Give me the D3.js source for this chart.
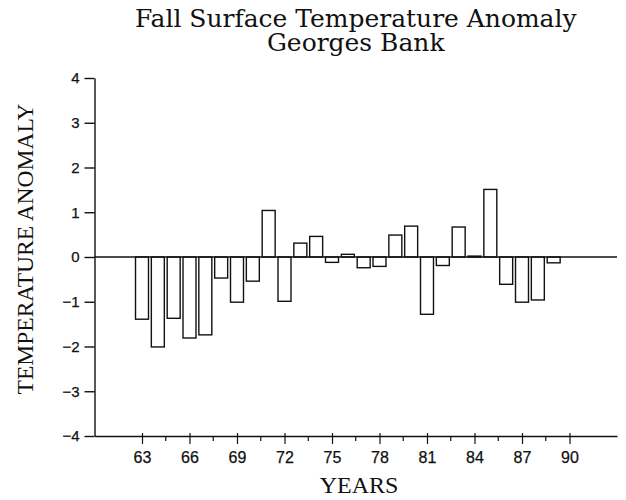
<!DOCTYPE html>
<html>
<head>
<meta charset="utf-8">
<script src="https://cdn.jsdelivr.net/npm/d3@7"></script>
<style>
  html, body { margin: 0; padding: 0; background: #fff; }
  svg { display: block; }
</style>
</head>
<body>
<svg id="chart" width="626" height="500"></svg>
<script>
// ---- data ----
const years = [63, 64, 65, 66, 67, 68, 69, 70, 71, 72, 73, 74, 75, 76, 77, 78, 79, 80, 81, 82, 83, 84, 85, 86, 87, 88, 89];
const anomalies = [-1.39, -2.01, -1.37, -1.81, -1.74, -0.47, -1.01, -0.54, 1.04, -0.99, 0.31, 0.46, -0.12, 0.06, -0.24, -0.21, 0.49, 0.69, -1.28, -0.19, 0.67, 0.02, 1.51, -0.61, -1.01, -0.96, -0.13];
const xMajorTicks = [63, 66, 69, 72, 75, 78, 81, 84, 87, 90];
const xMinorTicks = [64.5, 67.5, 70.5, 73.5, 76.5, 79.5, 82.5, 85.5, 88.5];
const yTicks = [-4, -3, -2, -1, 0, 1, 2, 3, 4];
const titleLines = ["Fall Surface Temperature Anomaly", "Georges Bank"];
const xLabel = "YEARS";
const yLabel = "TEMPERATURE ANOMALY";

// ---- layout ----
const svg = d3.select("#chart");
const mLeft = 94.5, mRight = 617, mTop = 78, mBottom = 436;
const x = d3.scaleLinear().domain([60, 93]).range([mLeft, mRight]);
const y = d3.scaleLinear().domain([-4, 4]).range([mBottom, mTop]);
const barW = (x(1) - x(0)) * 0.82;
const ink = "#111";
const fmt = d => (d < 0 ? "\u2212" + Math.abs(d) : String(d));

// bars
svg.append("g").selectAll("rect")
  .data(years.map((yr, i) => ({ yr, v: anomalies[i] })))
  .join("rect")
  .attr("x", d => x(d.yr) - barW / 2)
  .attr("width", barW)
  .attr("y", d => y(Math.max(0, d.v)))
  .attr("height", d => Math.abs(y(d.v) - y(0)))
  .attr("fill", "#fff")
  .attr("stroke", ink)
  .attr("stroke-width", 1.4);

// zero line
svg.append("line")
  .attr("x1", mLeft).attr("x2", mRight)
  .attr("y1", y(0)).attr("y2", y(0))
  .attr("stroke", ink).attr("stroke-width", 1.4);

// y axis
const yAxis = svg.append("g")
  .attr("transform", `translate(${mLeft},0)`)
  .call(d3.axisLeft(y).tickValues(yTicks).tickSize(10).tickSizeOuter(0).tickPadding(5).tickFormat(fmt));
yAxis.select(".domain").attr("stroke", ink).attr("stroke-width", 1.4);
yAxis.selectAll(".tick line").attr("stroke", ink).attr("stroke-width", 1.4);
yAxis.selectAll("text").attr("font-family", "'Liberation Sans', Arial, sans-serif")
  .attr("font-size", 15).attr("fill", ink)
  .attr("stroke", ink).attr("stroke-width", 0.25);

// x axis
const xAxis = svg.append("g")
  .attr("transform", `translate(0,${mBottom})`)
  .call(d3.axisBottom(x).tickValues(xMajorTicks).tickSize(8).tickSizeOuter(0).tickPadding(8).tickFormat(d => d));
xAxis.select(".domain").attr("stroke", ink).attr("stroke-width", 1.4);
xAxis.selectAll(".tick line").attr("stroke", ink).attr("stroke-width", 1.2).attr("y1", -3);
xAxis.selectAll("text").attr("font-family", "'Liberation Sans', Arial, sans-serif")
  .attr("font-size", 16).attr("fill", ink)
  .attr("stroke", ink).attr("stroke-width", 0.25);
svg.append("g").selectAll("line").data(xMinorTicks).join("line")
  .attr("x1", d => x(d)).attr("x2", d => x(d))
  .attr("y1", mBottom).attr("y2", mBottom + 5)
  .attr("stroke", ink).attr("stroke-width", 1.2);

// axis titles
svg.append("text")
  .attr("x", 359).attr("y", 493)
  .attr("text-anchor", "middle")
  .attr("font-family", "'Liberation Serif', 'Times New Roman', serif")
  .attr("font-size", 24).attr("fill", ink)
  .text(xLabel);

svg.append("text")
  .attr("transform", "translate(33,249) rotate(-90)")
  .attr("text-anchor", "middle")
  .attr("font-family", "'Liberation Serif', 'Times New Roman', serif")
  .attr("font-size", 23.5).attr("fill", ink)
  .text(yLabel);

// title (first line fitted to the width measured on the reference)
const titleCx = (mLeft + mRight) / 2;
const titleBaselines = [27, 51];
const titleNodes = titleLines.map((line, i) => svg.append("text")
  .attr("x", titleCx).attr("y", titleBaselines[i])
  .attr("text-anchor", "middle")
  .attr("font-family", "'DejaVu Serif', serif")
  .attr("font-size", 20).attr("fill", ink)
  .text(line));
const fs = 20 * 442 / titleNodes[0].node().getComputedTextLength();
titleNodes.forEach(t => t.attr("font-size", fs));
</script>
</body>
</html>
